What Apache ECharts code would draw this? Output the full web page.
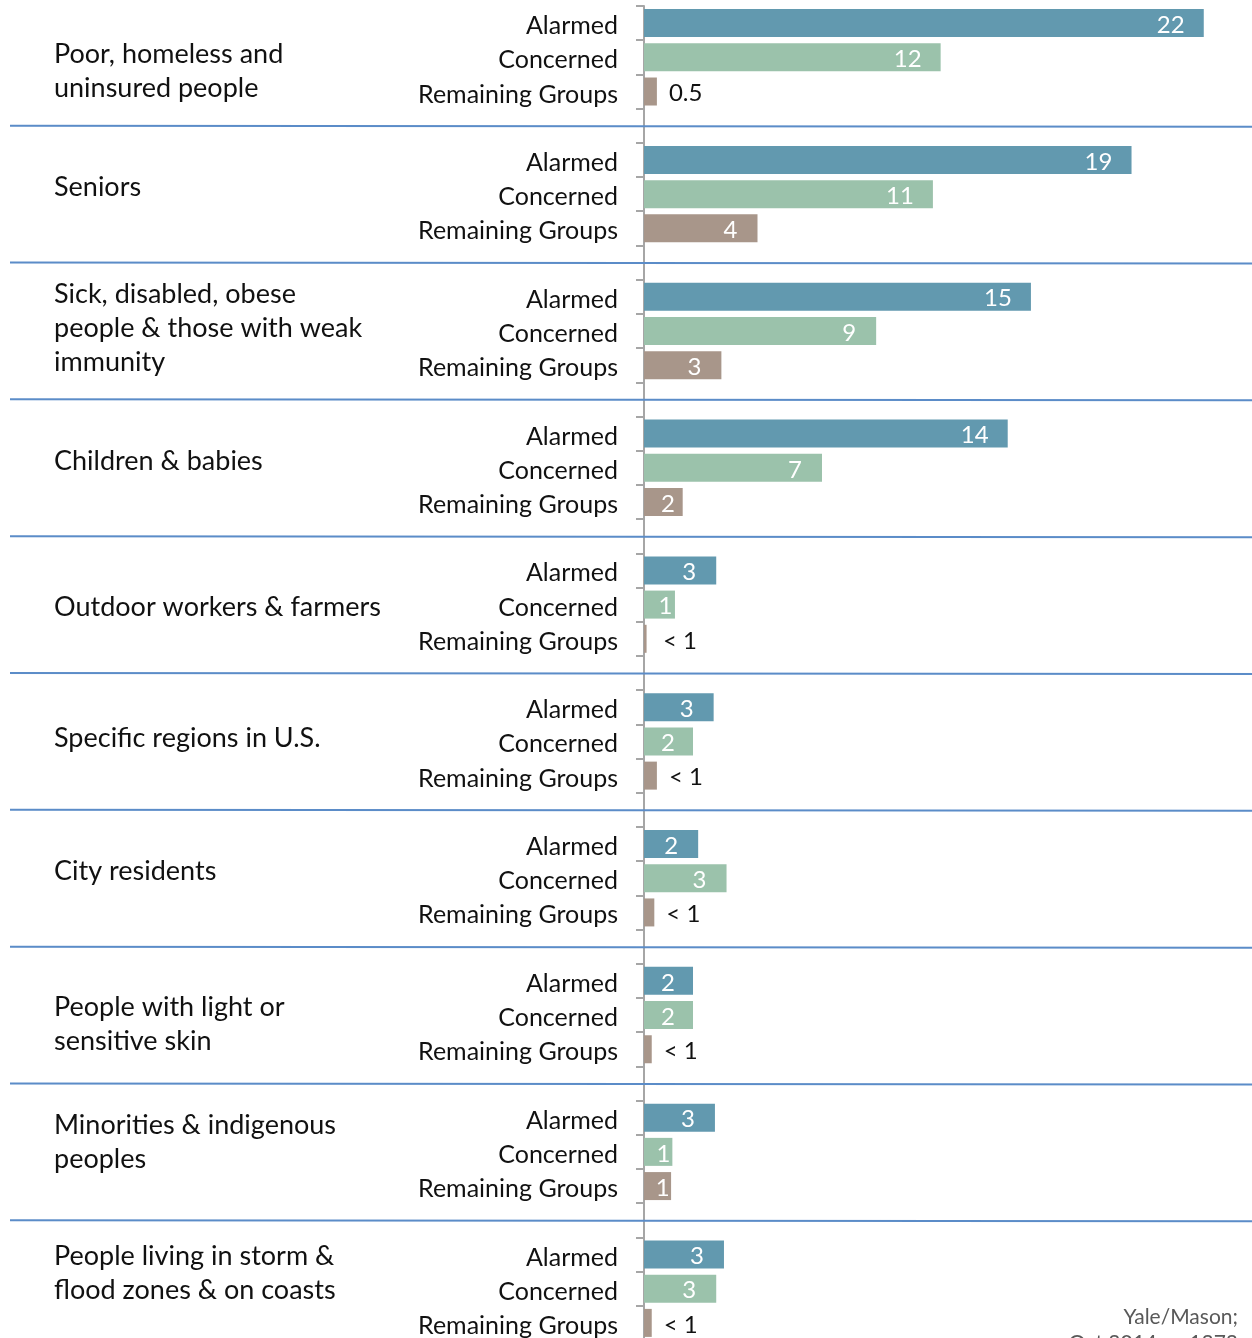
<!DOCTYPE html>
<html><head><meta charset="utf-8">
<script src="https://cdn.jsdelivr.net/npm/echarts@6/dist/echarts.min.js"></script>
<style>html,body{margin:0;padding:0;background:#fff}#c{width:1252px;height:1338px}</style>
</head><body><div id="c"></div>
<script>
// ---- data ----
const groups = [
  'Poor, homeless and\nuninsured people',
  'Seniors',
  'Sick, disabled, obese\npeople & those with weak\nimmunity',
  'Children & babies',
  'Outdoor workers & farmers',
  'Specific regions in U.S.',
  'City residents',
  'People with light or\nsensitive skin',
  'Minorities & indigenous\npeoples',
  'People living in storm &\nflood zones & on coasts'
];
const rowLabels = ['Alarmed', 'Concerned', 'Remaining Groups'];
const alarmed   = [21.7, 18.9, 15.0, 14.1, 2.8, 2.7, 2.1, 1.9, 2.75, 3.1];
const concerned = [11.5, 11.2, 9.0, 6.9, 1.2, 1.9, 3.2, 1.9, 1.1, 2.8];
const remaining = [0.5, 4.4, 3.0, 1.5, 0.1, 0.5, 0.4, 0.3, 1.05, 0.3];
const alarmedText   = ['22','19','15','14','3','3','2','2','3','3'];
const concernedText = ['12','11','9','7','1','2','3','2','1','3'];
const remainingText = ['0.5','4','3','2','< 1','< 1','< 1','< 1','1','< 1'];
const sourceText = 'Yale/Mason;\nOct 2014, p. 1272';

// ---- layout / style ----
const FONT = 'Lato';
const colors = ['#6299AF', '#9BC2AB', '#A8968A'];
const groupLabelDy = [14, -7, -3, -6, 3, -3, -7, 9, -10, -15];
const xMin = 0, xMax = 23.57;
const gridLeft = 644, gridRight = 0, W = 1252;
const pxPerUnit = (W - gridLeft - gridRight) / (xMax - xMin);

const categories = [];
const barData = [];
const series = [alarmed, concerned, remaining];
const texts = [alarmedText, concernedText, remainingText];
groups.forEach((g, gi) => {
  for (let r = 0; r < 3; r++) {
    categories.push(rowLabels[r]);
    const v = series[r][gi];
    const t = texts[r][gi];
    const w = v * pxPerUnit;
    const outside = t.indexOf('<') >= 0 || t === '0.5';
    let label;
    if (outside) {
      label = {show: true, position: [Math.max(w + 12, 19), 16], align: 'left', verticalAlign: 'middle',
        color: '#111', fontSize: 24, fontFamily: FONT, formatter: t};
    } else {
      const cx = Math.max(w - 27 - 6 * (t.length - 1), Math.min(24, w * 0.69));
      label = {show: true, position: [cx, 16], align: 'center', verticalAlign: 'middle',
        color: '#fff', fontSize: 24, fontFamily: FONT, formatter: t};
    }
    barData.push({value: v, itemStyle: {color: colors[r]}, label});
  }
  if (gi < groups.length - 1) { categories.push(''); barData.push(null); }
});
const sepIdx = [];
categories.forEach((c, i) => { if (c === '') sepIdx.push(i); });

const chart = echarts.init(document.getElementById('c'), null, {renderer: 'canvas'});
chart.setOption({
  animation: false,
  grid: {left: gridLeft, right: gridRight, top: 6, height: 1334, containLabel: false, outerBoundsMode: 'none'},
  xAxis: {type: 'value', min: xMin, max: xMax, show: false},
  yAxis: {
    type: 'category', inverse: true, data: categories,
    axisLine: {show: true, onZero: false, lineStyle: {color: '#A6A6A6', width: 2}},
    axisTick: {show: true, length: 8, lineStyle: {color: '#A6A6A6', width: 2}},
    axisLabel: {margin: 26, color: '#111',
      formatter: v => v ? '{a|' + v + '}' : '',
      rich: {a: {fontSize: 25, fontFamily: FONT, color: '#111', padding: [6, 0, 0, 0]}}},
    splitLine: {show: false}
  },
  series: [{type: 'bar', data: barData, barWidth: 28, z: 3}]
});

const graphics = [];
sepIdx.forEach(i => {
  const y = chart.convertToPixel({yAxisIndex: 0}, i);
  graphics.push({type: 'line', silent: true, z: 1,
    shape: {x1: 10, y1: y, x2: W, y2: y + 1},
    style: {stroke: '#5B8CC8', lineWidth: 2}});
});
groups.forEach((g, gi) => {
  const y = chart.convertToPixel({yAxisIndex: 0}, gi * 4 + 1);
  graphics.push({type: 'text', silent: true, x: 54, y: y + groupLabelDy[gi],
    style: {text: g, fontSize: 27, fontFamily: FONT, fill: '#111', lineHeight: 34, verticalAlign: 'middle', align: 'left'}});
});
graphics.push({type: 'text', silent: true, x: 1238, y: 1304,
  style: {text: sourceText, fontSize: 21, fontFamily: FONT, fill: '#595959', lineHeight: 26, align: 'right', verticalAlign: 'top'}});
chart.setOption({graphic: graphics});
</script></body></html>
